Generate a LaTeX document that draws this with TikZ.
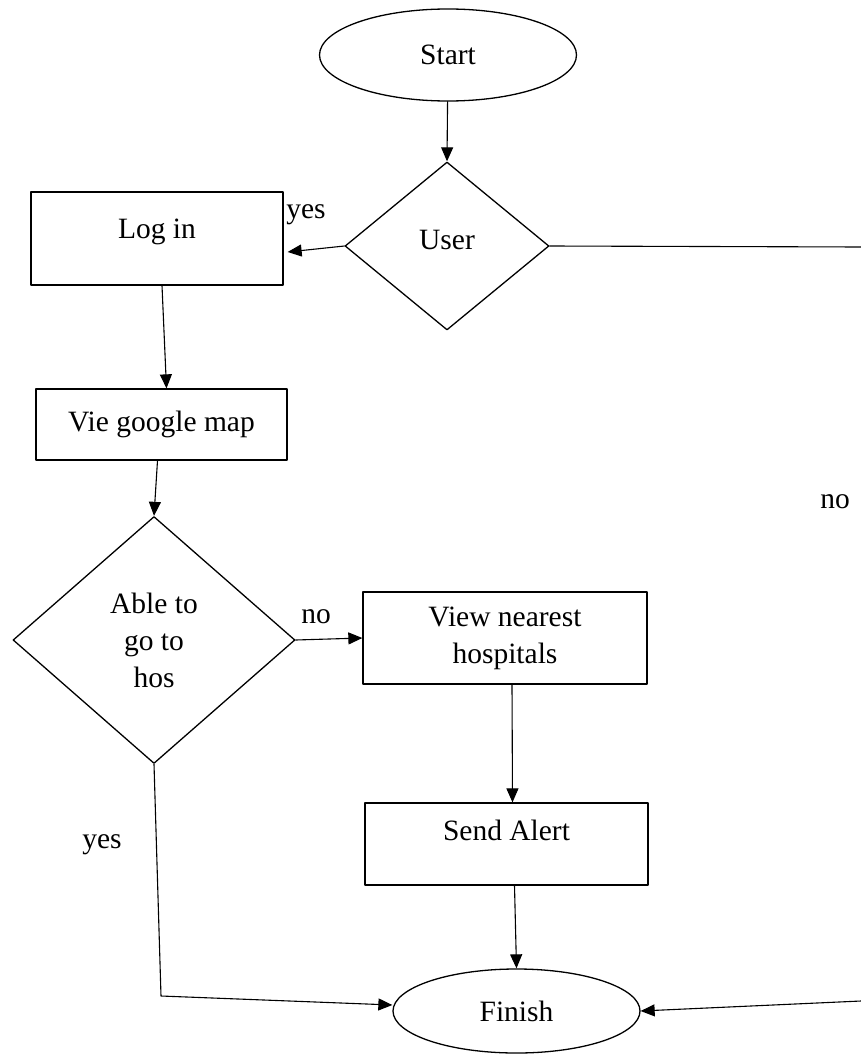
\documentclass[tikz,border=0pt]{standalone}
\usepackage{fontspec}
\setmainfont{Liberation Serif}
\usepackage{tikz}
\usetikzlibrary{arrows.meta, calc, shapes.geometric}

\begin{document}
\begin{tikzpicture}[
  x=1pt, y=-1pt,
  line cap=round, line join=round,
  font=\fontsize{29.5}{37}\selectfont,
  term/.style={ellipse, draw, line width=1.3pt, inner sep=0pt},
  proc/.style={rectangle, draw, line width=1.3pt, align=center, inner sep=0pt},
  dec/.style={diamond, draw, line width=1.3pt, align=center, inner sep=0pt},
  arr/.style={line width=1.1pt, -{Triangle[length=14pt, width=12pt]}},
  lnk/.style={line width=1.1pt}
]
  \useasboundingbox (0,0) rectangle (861,1054);
  % shapes
  \node[term, minimum width=257pt, minimum height=92pt] (start) at (448,55) {Start};
  \node[dec, minimum width=204pt, minimum height=168pt, text depth=12pt] (user) at (447,246) {User};
  \node[proc, minimum width=252pt, minimum height=93pt, text height=21pt, text depth=22pt] (login) at (157,238.5) {Log in};
  \node[proc, minimum width=251pt, minimum height=71pt] (map) at (161.5,424.5) {Vie google map};
  \node[dec, minimum width=282pt, minimum height=247pt] (able) at (154,640) {Able to\\go to\\hos};
  \node[proc, minimum width=284pt, minimum height=92pt] (hosp) at (505,638) {View nearest\\hospitals};
  \node[proc, minimum width=283pt, minimum height=82pt, text height=21pt, text depth=28pt] (alert) at (506.5,844) {Send Alert};
  \node[term, minimum width=247pt, minimum height=84pt] (finish) at (516.5,1011) {Finish};
  % branch labels
  \node (yesuser) at (306,215) {yes};
  \node (noable)  at (316,617) {no};
  \node (yesable) at (102,845) {yes};
  \node (nouser)  at (835,502) {no};
  % loose ends at the right margin and the bottom corner
  \coordinate (userout) at (861,247);
  \coordinate (finishin) at (861,1001);
  \coordinate (yescorner) at (161,996);
  % connectors
  \draw[arr] (start) -- (user.north);
  \draw[arr] (user.west) -- ($(login.east)+(4,13.5)$);
  \draw[lnk] (user.east) -- (userout);
  \draw[arr] ($(login.south)+(5,0)$) -- ($(map.north)+(5,0)$);
  \draw[arr] ($(map.south)+(-4,0)$) -- (able.north);
  \draw[arr] (able.east) -- (hosp.west);
  \draw[arr] ($(hosp.south)+(7,0)$) -- ($(alert.north)+(6,0)$);
  \draw[arr] ($(alert.south)+(8,0)$) -- (finish.north);
  \draw[arr] (able.south) -- (yescorner) -- ($(finish.west)+(0,-6)$);
  \draw[arr] (finishin) -- (finish.east);
\end{tikzpicture}
\end{document}
